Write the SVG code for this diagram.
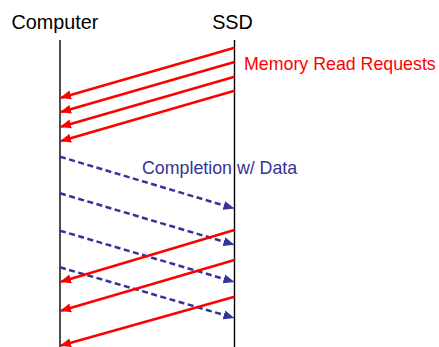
<svg xmlns="http://www.w3.org/2000/svg" width="439" height="347" viewBox="0 0 439 347">
<style>
.life{stroke:#000;stroke-width:1.4;fill:none}
.req{stroke:#ff0000;stroke-width:2.5;fill:none;marker-end:url(#ar)}
.cpl{stroke:#333399;stroke-width:2.5;fill:none;stroke-dasharray:6 3.5;marker-end:url(#ab)}
.t{font-family:"Liberation Sans",Arial,sans-serif}
</style>
<defs>
<marker id="ar" markerUnits="userSpaceOnUse" markerWidth="11" markerHeight="10" refX="10" refY="4.5" orient="auto" viewBox="0 0 11 9">
<path d="M0,0 L11,4.5 L0,9 Z" fill="#ff0000"/>
</marker>
<marker id="ab" markerUnits="userSpaceOnUse" markerWidth="11" markerHeight="10" refX="10" refY="4.5" orient="auto" viewBox="0 0 11 9">
<path d="M0,0 L11,4.5 L0,9 Z" fill="#333399"/>
</marker>
</defs>
<g id="computer">
<text class="t" x="55" y="29" font-size="19.8" text-anchor="middle" fill="#000">Computer</text>
<line class="life" x1="60" y1="40" x2="60" y2="347"/>
</g>
<g id="ssd">
<text class="t" x="232.5" y="29" font-size="19.8" text-anchor="middle" fill="#000">SSD</text>
<line class="life" x1="234.5" y1="40" x2="234.5" y2="347"/>
</g>
<g id="labels">
<text class="t" x="244" y="69.5" font-size="17.8" fill="#ff0000">Memory Read Requests</text>
<text class="t" x="142" y="173.5" font-size="17.8" fill="#333399">Completion w/ Data</text>
</g>
<g id="connectors">
<line class="req" x1="234.5" y1="47.7" x2="61" y2="97.7"/>
<line class="req" x1="234.5" y1="62" x2="61" y2="112"/>
<line class="req" x1="234.5" y1="76.7" x2="61" y2="126.7"/>
<line class="req" x1="234.5" y1="90.7" x2="61" y2="141"/>
<line class="cpl" x1="60" y1="156.7" x2="233.5" y2="208.3"/>
<line class="cpl" x1="60" y1="193.3" x2="233.5" y2="244.5"/>
<line class="cpl" x1="60" y1="230.7" x2="233.5" y2="281.7"/>
<line class="cpl" x1="60" y1="267.3" x2="233.5" y2="317.7"/>
<line class="req" x1="234.5" y1="230" x2="61" y2="281.7"/>
<line class="req" x1="234.5" y1="260" x2="61" y2="310.7"/>
<line class="req" x1="234.5" y1="296.7" x2="61" y2="345.5"/>
</g>
</svg>
